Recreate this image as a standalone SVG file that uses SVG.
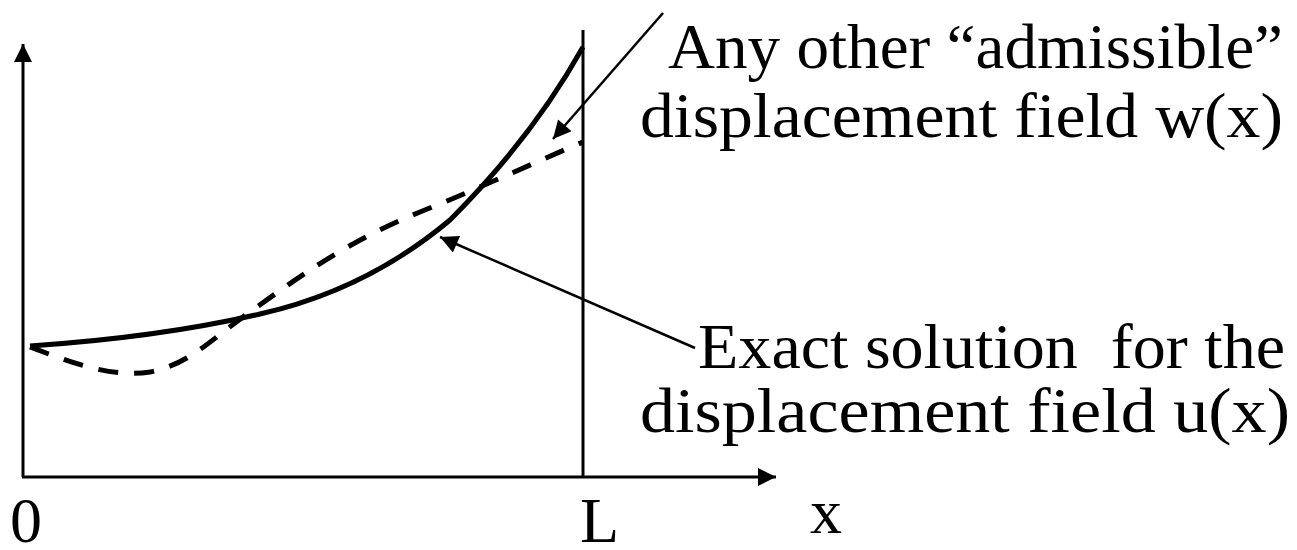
<svg xmlns="http://www.w3.org/2000/svg" width="1297" height="550" viewBox="0 0 1297 550">
<style>
text{font-family:"Liberation Serif","Times New Roman",serif;font-size:64px;fill:#000;white-space:pre}
.ax{stroke:#000;stroke-width:3;fill:none}
.thin{stroke:#000;stroke-width:2.5;fill:none}
.curve{stroke:#000;stroke-width:5;fill:none;stroke-linecap:butt}
</style>
<defs>
<marker id="ah" viewBox="0 0 10 10" refX="10" refY="5" markerWidth="18" markerHeight="18" markerUnits="userSpaceOnUse" orient="auto"><path d="M0,0 L10,5 L0,10 Z" fill="#000"/></marker>
<marker id="ahs" viewBox="0 0 10 10" refX="10" refY="5" markerWidth="20" markerHeight="18" markerUnits="userSpaceOnUse" orient="auto"><path d="M0,0 L10,5 L0,10 Z" fill="#000"/></marker>
</defs>
<g id="axes">
<line class="ax" x1="23" y1="477" x2="23" y2="44" marker-end="url(#ah)"/>
<line class="ax" x1="22" y1="477" x2="776" y2="477" marker-end="url(#ah)"/>
<line class="ax" x1="583" y1="30" x2="583" y2="477"/>
</g>
<g id="curves">
<path id="exact" class="curve" d="M30,346 C120,340 200,328 260,314 C340,296 400,262 450,220 C500,170 545,115 583,47"/>
<path id="admissible" class="curve" stroke-dasharray="20,16" d="M30,347 C70,362 110,378 150,372 C190,364 210,340 250,312 C300,276 350,240 420,212 C480,188 540,160 583,142"/>
</g>
<g id="connectors">
<line class="thin" x1="663" y1="13" x2="553" y2="139" marker-end="url(#ahs)"/>
<line class="thin" x1="695" y1="348" x2="440" y2="237" marker-end="url(#ahs)"/>
</g>
<g id="label-w">
<text x="668" y="68" textLength="615" lengthAdjust="spacingAndGlyphs">Any other “admissible”</text>
<text x="640" y="137" textLength="643" lengthAdjust="spacingAndGlyphs">displacement field w(x)</text>
</g>
<g id="label-u">
<text x="698" y="368" textLength="587" lengthAdjust="spacingAndGlyphs">Exact solution  for the</text>
<text x="640" y="432" textLength="650" lengthAdjust="spacingAndGlyphs">displacement field u(x)</text>
</g>
<g id="tick-labels">
<text x="10" y="542">0</text>
<text x="580" y="542">L</text>
<text x="810" y="533">x</text>
</g>
</svg>
